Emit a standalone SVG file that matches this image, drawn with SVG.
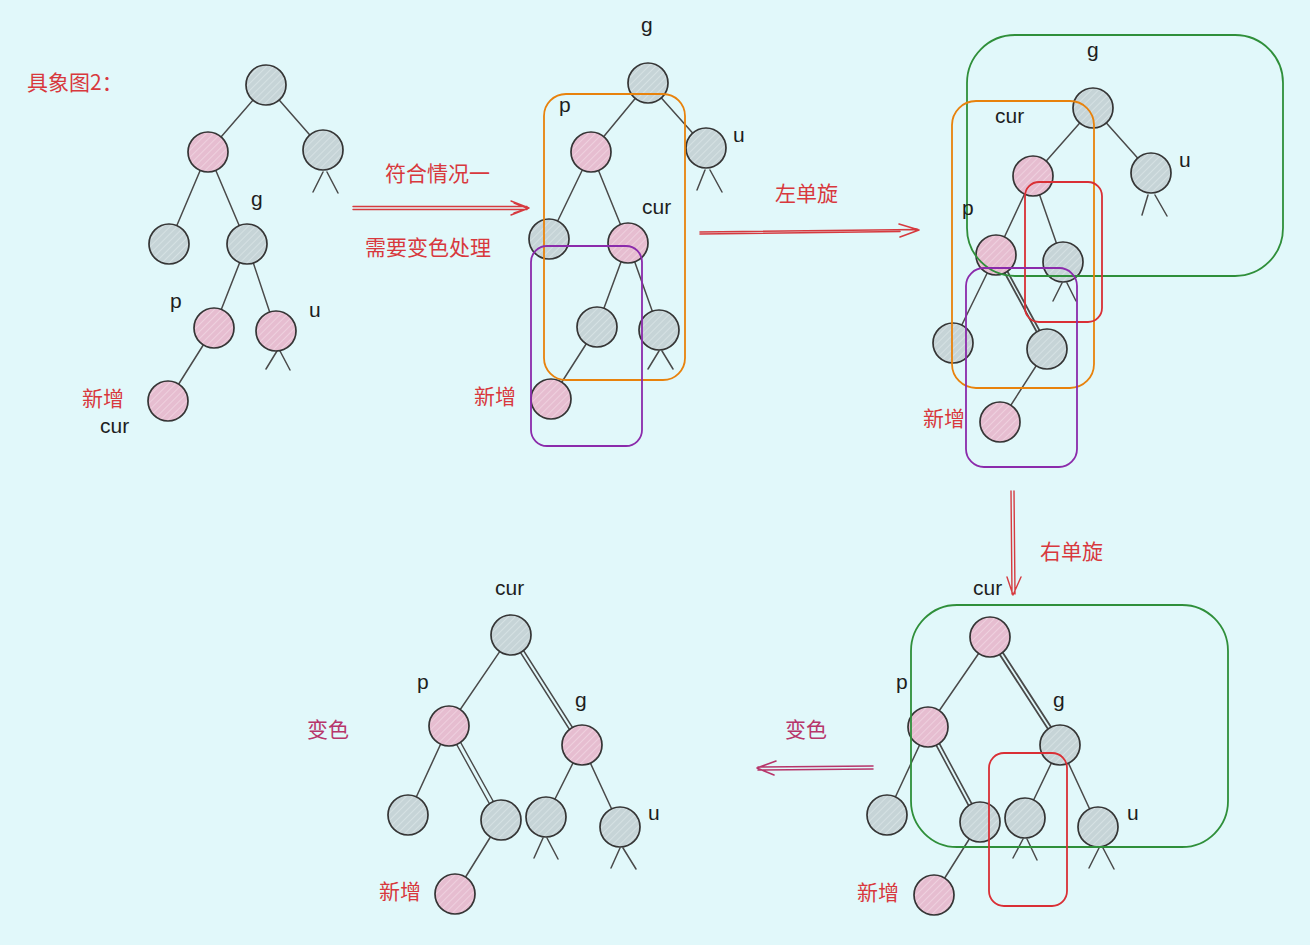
<svg xmlns="http://www.w3.org/2000/svg" width="1310" height="945" viewBox="0 0 1310 945">
<defs>
<pattern id="hg" width="5" height="5" patternUnits="userSpaceOnUse" patternTransform="rotate(45)">
<rect width="5" height="5" fill="#c6d4d7"/>
<line x1="0" y1="0" x2="0" y2="5" stroke="#dce7e9" stroke-width="1.4"/>
</pattern>
<pattern id="hp" width="5" height="5" patternUnits="userSpaceOnUse" patternTransform="rotate(45)">
<rect width="5" height="5" fill="#e6bdd0"/>
<line x1="0" y1="0" x2="0" y2="5" stroke="#f2d8e4" stroke-width="1.4"/>
</pattern>
</defs>
<style>
.bg{fill:#e1f8fa}
.n circle{stroke:#353535;stroke-width:1.7}
.gr{fill:url(#hg)}
.pk{fill:url(#hp)}
.e{stroke:#4a4a4a;stroke-width:1.5;fill:none;stroke-linecap:round}
.lb{font-family:"Liberation Sans",Arial,sans-serif;font-size:21px;fill:#1e1e1e}
.cn{font-family:"Noto Sans CJK SC",sans-serif;font-size:21px;fill:#d8383d}
.cm{font-family:"Noto Sans CJK SC",sans-serif;font-size:21px;fill:#b7356a}
.ar{stroke:#d63a3f;stroke-width:1.4;fill:none;stroke-linecap:round;stroke-linejoin:round}
.am{stroke:#b7356a;stroke-width:1.4;fill:none;stroke-linecap:round;stroke-linejoin:round}
.box{fill:none;stroke-width:1.8}
.or{stroke:#e8820c}
.pu{stroke:#8b2bab}
.gn{stroke:#2f8f3a}
.rd{stroke:#d92f35}
</style>
<rect class="bg" x="0" y="0" width="1310" height="945"/>

<g id="connectors">
<!-- tree 1 -->
<path class="e" d="M266,85 L208,152 M266,85 L323,150 M208,152 L169,244 M208,152 L247,244 M247,244 L214,328 M247,244 L276,331 M214,328 L168,401"/>
<path class="e" d="M323,172 L313,192 M327,172 L338,193 M277,351 L266,369 M280,351 L290,370"/>
<!-- tree 2 -->
<path class="e" d="M648,83 L591,152 M648,83 L706,148 M591,152 L549,239 M591,152 L628,243 M628,243 L597,327 M628,243 L659,330 M597,327 L551,399"/>
<path class="e" d="M705,170 L697,190 M710,170 L722,192 M659,351 L648,369 M662,351 L673,369"/>
<!-- tree 3 -->
<path class="e" d="M1093,108 L1033,176 M1093,108 L1151,173 M1033,176 L996,255 M1033,176 L1063,262 M996,255 L953,343 M1047,349 L1000,422"/>
<path class="e" d="M995,255 L1046,349 M998,254 L1049,348" style="stroke-width:1.8"/>
<path class="e" d="M1148,195 L1142,215 M1155,195 L1167,216 M1062,283 L1053,301 M1067,283 L1076,301"/>
<!-- tree 4 -->
<path class="e" d="M990,637 L928,727 M928,727 L887,815 M1060,745 L1025,818 M1060,745 L1098,827 M980,822 L934,895"/>
<path class="e" d="M989,638 L1059,746 M992,636 L1062,744" style="stroke-width:1.8"/>
<path class="e" d="M927,728 L978,823 M930,726 L981,821" style="stroke-width:1.6"/>
<path class="e" d="M1023,839 L1013,858 M1027,839 L1037,860 M1099,848 L1089,868 M1103,848 L1114,869"/>
<!-- tree 5 -->
<path class="e" d="M511,635 L449,726 M449,726 L408,815 M582,745 L546,817 M582,745 L620,827 M501,820 L455,894"/>
<path class="e" d="M510,636 L580,746 M513,634 L583,744" style="stroke-width:1.4"/>
<path class="e" d="M447,727 L499,821 M451,725 L503,819" style="stroke-width:1.4"/>
<path class="e" d="M543,838 L534,858 M547,838 L558,859 M620,848 L611,868 M623,848 L636,869"/>
<!-- arrows -->
<path class="ar" d="M353,206.5 L527,206.5 M353,209.5 L527,209.5 M511,201 L529,208 L511,215 M514,203 L528,208.5 L514,213"/>
<path class="ar" d="M700,232 L918,229.5 M700,234 L900,231.5 M899,224 L919,230 L900,237" style="stroke-width:1.6"/>
<path class="ar" d="M1011,491 L1012,594 M1014,491 L1015,594 M1007,577 L1013,595 L1021,577"/>
<path class="am" d="M873,766 L758,767 M873,769 L758,770 M776,761 L757,768 L774,775" style="stroke-width:1.6"/>
</g>

<!-- tree 1 nodes -->
<g id="t1-n1" class="n"><circle class="gr" cx="266" cy="85" r="20"/></g>
<g id="t1-n2" class="n"><circle class="pk" cx="208" cy="152" r="20"/></g>
<g id="t1-n3" class="n"><circle class="gr" cx="323" cy="150" r="20"/></g>
<g id="t1-n4" class="n"><circle class="gr" cx="169" cy="244" r="20"/></g>
<g id="t1-g" class="n"><circle class="gr" cx="247" cy="244" r="20"/></g>
<g id="t1-p" class="n"><circle class="pk" cx="214" cy="328" r="20"/></g>
<g id="t1-u" class="n"><circle class="pk" cx="276" cy="331" r="20"/></g>
<g id="t1-cur" class="n"><circle class="pk" cx="168" cy="401" r="20"/></g>

<!-- tree 2 nodes -->
<g id="t2-g" class="n"><circle class="gr" cx="648" cy="83" r="20"/></g>
<g id="t2-p" class="n"><circle class="pk" cx="591" cy="152" r="20"/></g>
<g id="t2-u" class="n"><circle class="gr" cx="706" cy="148" r="20"/></g>
<g id="t2-n4" class="n"><circle class="gr" cx="549" cy="239" r="20"/></g>
<g id="t2-cur" class="n"><circle class="pk" cx="628" cy="243" r="20"/></g>
<g id="t2-n6" class="n"><circle class="gr" cx="597" cy="327" r="20"/></g>
<g id="t2-n7" class="n"><circle class="gr" cx="659" cy="330" r="20"/></g>
<g id="t2-new" class="n"><circle class="pk" cx="551" cy="399" r="20"/></g>

<!-- tree 3 nodes -->
<g id="t3-g" class="n"><circle class="gr" cx="1093" cy="108" r="20"/></g>
<g id="t3-cur" class="n"><circle class="pk" cx="1033" cy="176" r="20"/></g>
<g id="t3-u" class="n"><circle class="gr" cx="1151" cy="173" r="20"/></g>
<g id="t3-p" class="n"><circle class="pk" cx="996" cy="255" r="20"/></g>
<g id="t3-n5" class="n"><circle class="gr" cx="1063" cy="262" r="20"/></g>
<g id="t3-n6" class="n"><circle class="gr" cx="953" cy="343" r="20"/></g>
<g id="t3-n7" class="n"><circle class="gr" cx="1047" cy="349" r="20"/></g>
<g id="t3-new" class="n"><circle class="pk" cx="1000" cy="422" r="20"/></g>

<!-- tree 4 nodes -->
<g id="t4-cur" class="n"><circle class="pk" cx="990" cy="637" r="20"/></g>
<g id="t4-p" class="n"><circle class="pk" cx="928" cy="727" r="20"/></g>
<g id="t4-g" class="n"><circle class="gr" cx="1060" cy="745" r="20"/></g>
<g id="t4-n4" class="n"><circle class="gr" cx="887" cy="815" r="20"/></g>
<g id="t4-n5" class="n"><circle class="gr" cx="980" cy="822" r="20"/></g>
<g id="t4-n6" class="n"><circle class="gr" cx="1025" cy="818" r="20"/></g>
<g id="t4-u" class="n"><circle class="gr" cx="1098" cy="827" r="20"/></g>
<g id="t4-new" class="n"><circle class="pk" cx="934" cy="895" r="20"/></g>

<!-- tree 5 nodes -->
<g id="t5-cur" class="n"><circle class="gr" cx="511" cy="635" r="20"/></g>
<g id="t5-p" class="n"><circle class="pk" cx="449" cy="726" r="20"/></g>
<g id="t5-g" class="n"><circle class="pk" cx="582" cy="745" r="20"/></g>
<g id="t5-n4" class="n"><circle class="gr" cx="408" cy="815" r="20"/></g>
<g id="t5-n5" class="n"><circle class="gr" cx="501" cy="820" r="20"/></g>
<g id="t5-n6" class="n"><circle class="gr" cx="546" cy="817" r="20"/></g>
<g id="t5-u" class="n"><circle class="gr" cx="620" cy="827" r="20"/></g>
<g id="t5-new" class="n"><circle class="pk" cx="455" cy="894" r="20"/></g>

<!-- grouping boxes -->
<g id="boxes">
<rect class="box or" x="544" y="94" width="141" height="286" rx="22"/>
<rect class="box pu" x="531" y="246" width="111" height="200" rx="16"/>
<rect class="box gn" x="967" y="35" width="316" height="241" rx="48"/>
<rect class="box or" x="952" y="101" width="142" height="287" rx="24"/>
<rect class="box rd" x="1025" y="182" width="77" height="140" rx="14"/>
<rect class="box pu" x="966" y="268" width="111" height="199" rx="18"/>
<rect class="box gn" x="911" y="605" width="317" height="242" rx="46"/>
<rect class="box rd" x="989" y="753" width="78" height="153" rx="15"/>
</g>

<g id="labels">
<text class="cn" x="27" y="90">具象图2：</text>
<text class="lb" x="251" y="206">g</text>
<text class="lb" x="170" y="308">p</text>
<text class="lb" x="309" y="317">u</text>
<text class="cn" x="82" y="406">新增</text>
<text class="lb" x="100" y="433">cur</text>

<text class="cn" x="385" y="181">符合情况一</text>
<text class="cn" x="365" y="255">需要变色处理</text>

<text class="lb" x="641" y="32">g</text>
<text class="lb" x="559" y="112">p</text>
<text class="lb" x="733" y="142">u</text>
<text class="lb" x="642" y="214">cur</text>
<text class="cn" x="474" y="404">新增</text>

<text class="cn" x="775" y="201">左单旋</text>

<text class="lb" x="1087" y="57">g</text>
<text class="lb" x="995" y="123">cur</text>
<text class="lb" x="1179" y="167">u</text>
<text class="lb" x="962" y="215">p</text>
<text class="cn" x="923" y="426">新增</text>

<text class="cn" x="1040" y="559">右单旋</text>

<text class="lb" x="973" y="595">cur</text>
<text class="lb" x="896" y="689">p</text>
<text class="lb" x="1053" y="707">g</text>
<text class="lb" x="1127" y="820">u</text>
<text class="cn" x="857" y="900">新增</text>

<text class="cm" x="785" y="737">变色</text>

<text class="lb" x="495" y="595">cur</text>
<text class="lb" x="417" y="689">p</text>
<text class="lb" x="575" y="707">g</text>
<text class="lb" x="648" y="820">u</text>
<text class="cn" x="379" y="899">新增</text>
<text class="cm" x="307" y="737">变色</text>
</g>
</svg>
